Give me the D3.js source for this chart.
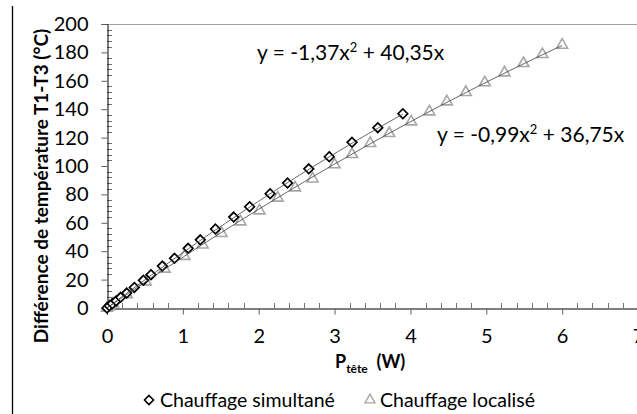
<!DOCTYPE html>
<html><head><meta charset="utf-8">
<script src="https://cdn.jsdelivr.net/npm/d3@7"></script>
<style>body{margin:0;background:#fff}svg{display:block}text{font-family:Lato,"Open Sans",sans-serif;fill:#000}</style>
</head><body><svg id="c" width="637" height="414"></svg>
<script>
// Chauffage simultané (diamonds)
const simX = [0, 0.03, 0.07, 0.12, 0.18, 0.26, 0.36, 0.48, 0.58, 0.73, 0.89, 1.07, 1.23, 1.43, 1.67, 1.88, 2.15, 2.38, 2.66, 2.93, 3.23, 3.57, 3.90];
const simY = [0, 1.5, 3, 5, 7.5, 10.5, 14.5, 19.5, 23.5, 29.5, 35, 42, 48, 55.6, 64, 71.3, 80.5, 88, 98, 106.5, 116.7, 127, 136.8];
// Chauffage localisé (triangles)
const locX = [0, 0.03, 0.08, 0.26, 0.51, 0.76, 1.02, 1.26, 1.51, 1.76, 2.01, 2.25, 2.48, 2.71, 3.00, 3.23, 3.47, 3.72, 4.01, 4.25, 4.48, 4.73, 4.98, 5.24, 5.49, 5.74, 6.00];
const locY = [0, 1, 3, 9.5, 18.5, 27.5, 36.5, 44.5, 52.6, 60.8, 68.5, 77.5, 84.7, 91, 101, 108.2, 116, 123, 131.2, 138.2, 145.3, 151.9, 158.7, 165.7, 172.3, 178.6, 185.2];
// Trendline coefficients (y = a x^2 + b x), as displayed
const simFit = [-1.37, 40.35];
const locFit = [-0.99, 36.75];
const xTicks = [0, 1, 2, 3, 4, 5, 6, 7];
const yTicks = [0, 20, 40, 60, 80, 100, 120, 140, 160, 180, 200];
const seriesNames = ["Chauffage simultané", "Chauffage localisé"];

const svg = d3.select("#c");
const L = 107, R = 638, T = 24, B = 308;
const x = d3.scaleLinear().domain([0, 7]).range([L, R]);
const y = d3.scaleLinear().domain([0, 200]).range([B, T]);

// left frame line
svg.append("line").attr("x1", 12.5).attr("x2", 12.5).attr("y1", 6).attr("y2", 414).attr("stroke", "#000").attr("stroke-width", 1.3);

// plot top border
svg.append("line").attr("x1", L).attr("x2", 637).attr("y1", T + 0.5).attr("y2", T + 0.5).attr("stroke", "#a0a0a0");

// minor ticks
const yMinor = d3.range(0, 201, 4).filter(v => v % 20 !== 0);
svg.append("g").selectAll("line").data(yMinor).join("line")
  .attr("x1", L).attr("x2", L + 5).attr("y1", d => Math.round(y(d)) + 0.5).attr("y2", d => Math.round(y(d)) + 0.5)
  .attr("stroke", "#707070");
const xMinor = d3.range(0, 7.01, 0.2).map(v => +v.toFixed(1)).filter(v => Math.abs(v - Math.round(v)) > 1e-6);
svg.append("g").selectAll("line").data(xMinor).join("line")
  .attr("x1", d => Math.round(x(d)) + 0.5).attr("x2", d => Math.round(x(d)) + 0.5).attr("y1", B - 5).attr("y2", B)
  .attr("stroke", "#707070");

// axes
const yAxis = svg.append("g").attr("transform", `translate(${L + 0.5},0)`)
  .call(d3.axisLeft(y).tickValues(yTicks).tickFormat(d3.format("d")).tickSize(6).tickPadding(13));
const xAxis = svg.append("g").attr("transform", `translate(0,${B + 0.5})`)
  .call(d3.axisBottom(x).tickValues(xTicks).tickFormat(d3.format("d")).tickSize(6).tickPadding(14));
[yAxis, xAxis].forEach(g => {
  g.select(".domain").attr("stroke", "#000");
  g.selectAll(".tick line").attr("stroke", "#606060");
  g.selectAll(".tick text").style("font-family", "Lato").style("font-size", "20px").attr("fill", "#000");
});

// markers
const triPath = d3.symbol().type(d3.symbolTriangle).size(52)();
const diaPath = "M0,-4.8L4.8,0L0,4.8L-4.8,0Z";
svg.append("g").selectAll("path").data(d3.zip(locX, locY)).join("path")
  .attr("d", triPath).attr("transform", d => `translate(${x(d[0])},${y(d[1])})`)
  .attr("fill", "#fff").attr("stroke", "#a6a6a6").attr("stroke-width", 1.6);
svg.append("g").selectAll("path").data(d3.zip(simX, simY)).join("path")
  .attr("d", diaPath).attr("transform", d => `translate(${x(d[0])},${y(d[1])})`)
  .attr("fill", "#fff").attr("stroke", "#000").attr("stroke-width", 1.7);

// trendlines
function trend(fit, xmax) {
  const pts = d3.range(0, 61).map(i => xmax * i / 60).map(v => [v, fit[0] * v * v + fit[1] * v]);
  svg.append("path").attr("d", d3.line().x(d => x(d[0])).y(d => y(d[1]))(pts))
    .attr("fill", "none").attr("stroke", "#404040").attr("stroke-width", 0.8);
}
trend(simFit, d3.max(simX));
trend(locFit, d3.max(locX));

// equations
function eq(tx, ty, a, b) {
  const t = svg.append("text").attr("x", tx).attr("y", ty).style("font-size", "21px");
  t.append("tspan").text(`y = ${String(a).replace(".", ",")}x`);
  t.append("tspan").attr("dy", -8).style("font-size", "13px").text("2");
  t.append("tspan").attr("dy", 8).text(` + ${String(b).replace(".", ",")}x`);
}
eq(257, 60, simFit[0].toFixed(2), simFit[1].toFixed(2));
eq(437, 142, locFit[0].toFixed(2), locFit[1].toFixed(2));

// axis titles
svg.append("text").attr("transform", "translate(48,186) rotate(-90)").attr("text-anchor", "middle")
  .style("font-size", "19px").style("font-weight", "bold").text("Différence de température T1-T3 (°C)");
const xt = svg.append("text").attr("x", 335).attr("y", 368).style("font-size", "18px").style("font-weight", "bold");
xt.append("tspan").text("P");
xt.append("tspan").attr("dy", 5).style("font-size", "12px").text("tête");
xt.append("tspan").attr("dy", -5).text("\u00a0 (W)");

// legend
const lg = svg.append("g");
lg.append("path").attr("d", "M0,-4.5L4.5,0L0,4.5L-4.5,0Z").attr("transform", "translate(149,400)")
  .attr("fill", "#fff").attr("stroke", "#000").attr("stroke-width", 1.6);
lg.append("text").attr("x", 160).attr("y", 407).style("font-size", "19.5px").text(seriesNames[0]);
lg.append("path").attr("d", d3.symbol().type(d3.symbolTriangle).size(44)()).attr("transform", "translate(370,400)")
  .attr("fill", "#fff").attr("stroke", "#a6a6a6").attr("stroke-width", 1.4);
lg.append("text").attr("x", 380).attr("y", 407).style("font-size", "19.5px").text(seriesNames[1]);
</script></body></html>
